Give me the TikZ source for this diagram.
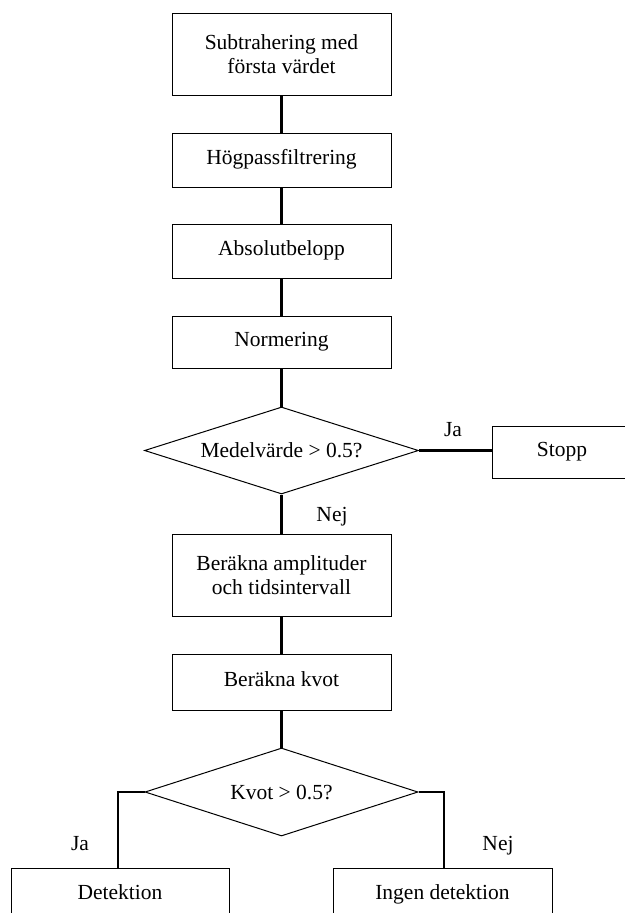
\documentclass[tikz,border=0pt]{standalone}
\usepackage{fontspec}
\setmainfont{Liberation Serif}
\usetikzlibrary{shapes.geometric,calc}
\begin{document}
\begin{tikzpicture}[x=1pt,y=-1pt,
  every node/.style={font=\fontsize{21.5}{24.5}\selectfont},
  box/.style={draw, line width=1pt, minimum width=219pt, align=center, inner sep=0pt},
  onebox/.style={box, text height=14pt, text depth=4.8pt},
  dec/.style={draw, diamond, line width=1pt, minimum width=274pt, minimum height=87pt, aspect=3.15, inner sep=0pt},
  conn/.style={line width=2.7pt},
  lbl/.style={anchor=base, inner sep=0pt}]
\useasboundingbox (0,0) rectangle (624,913);
\node[box, minimum height=82pt] (b1) at (281.5,54) {Subtrahering med\\första värdet};
\node[onebox, minimum height=54pt] (b2) at (281.5,160) {Högpassfiltrering};
\node[onebox, minimum height=54pt] (b3) at (281.5,251) {Absolutbelopp};
\node[onebox, minimum height=52pt] (b4) at (281.5,342) {Normering};
\node[dec] (d1) at (281.5,450.5) {Medelvärde > 0.5?};
\node[onebox, minimum width=140pt, minimum height=52pt] (stopp) at (562,452) {Stopp};
\node[box, minimum height=82pt] (b5) at (281.5,575) {Beräkna amplituder\\och tidsintervall};
\node[onebox, minimum height=56pt] (b6) at (281.5,682) {Beräkna kvot};
\node[dec, minimum width=273pt, minimum height=88pt] (d2) at (281.5,792) {Kvot > 0.5?};
\node[onebox, minimum width=218pt, minimum height=54pt] (det) at (120,895) {Detektion};
\node[onebox, minimum height=54pt] (ingen) at (442.5,895) {Ingen detektion};
\coordinate (lbr) at (118,868);
\coordinate (rbr) at (444,868);
\draw[conn] (b1) -- (b2);
\draw[conn] (b2) -- (b3);
\draw[conn] (b3) -- (b4);
\draw[conn] (b4) -- (d1.north);
\draw[conn] (d1.east) -- (d1.east -| stopp.west);
\draw[conn] (d1.south) -- (b5.north);
\draw[conn] (b5) -- (b6);
\draw[conn] (b6) -- (d2.north);
\draw[conn] (d2.west) -| (lbr);
\draw[conn] (d2.east) -| (rbr);
\node[lbl] (ja1) at (453,436) {Ja};
\node[lbl] (nej1) at (332,521) {Nej};
\node[lbl] (ja2) at (80,850) {Ja};
\node[lbl] (nej2) at (498,850) {Nej};
\end{tikzpicture}
\end{document}
